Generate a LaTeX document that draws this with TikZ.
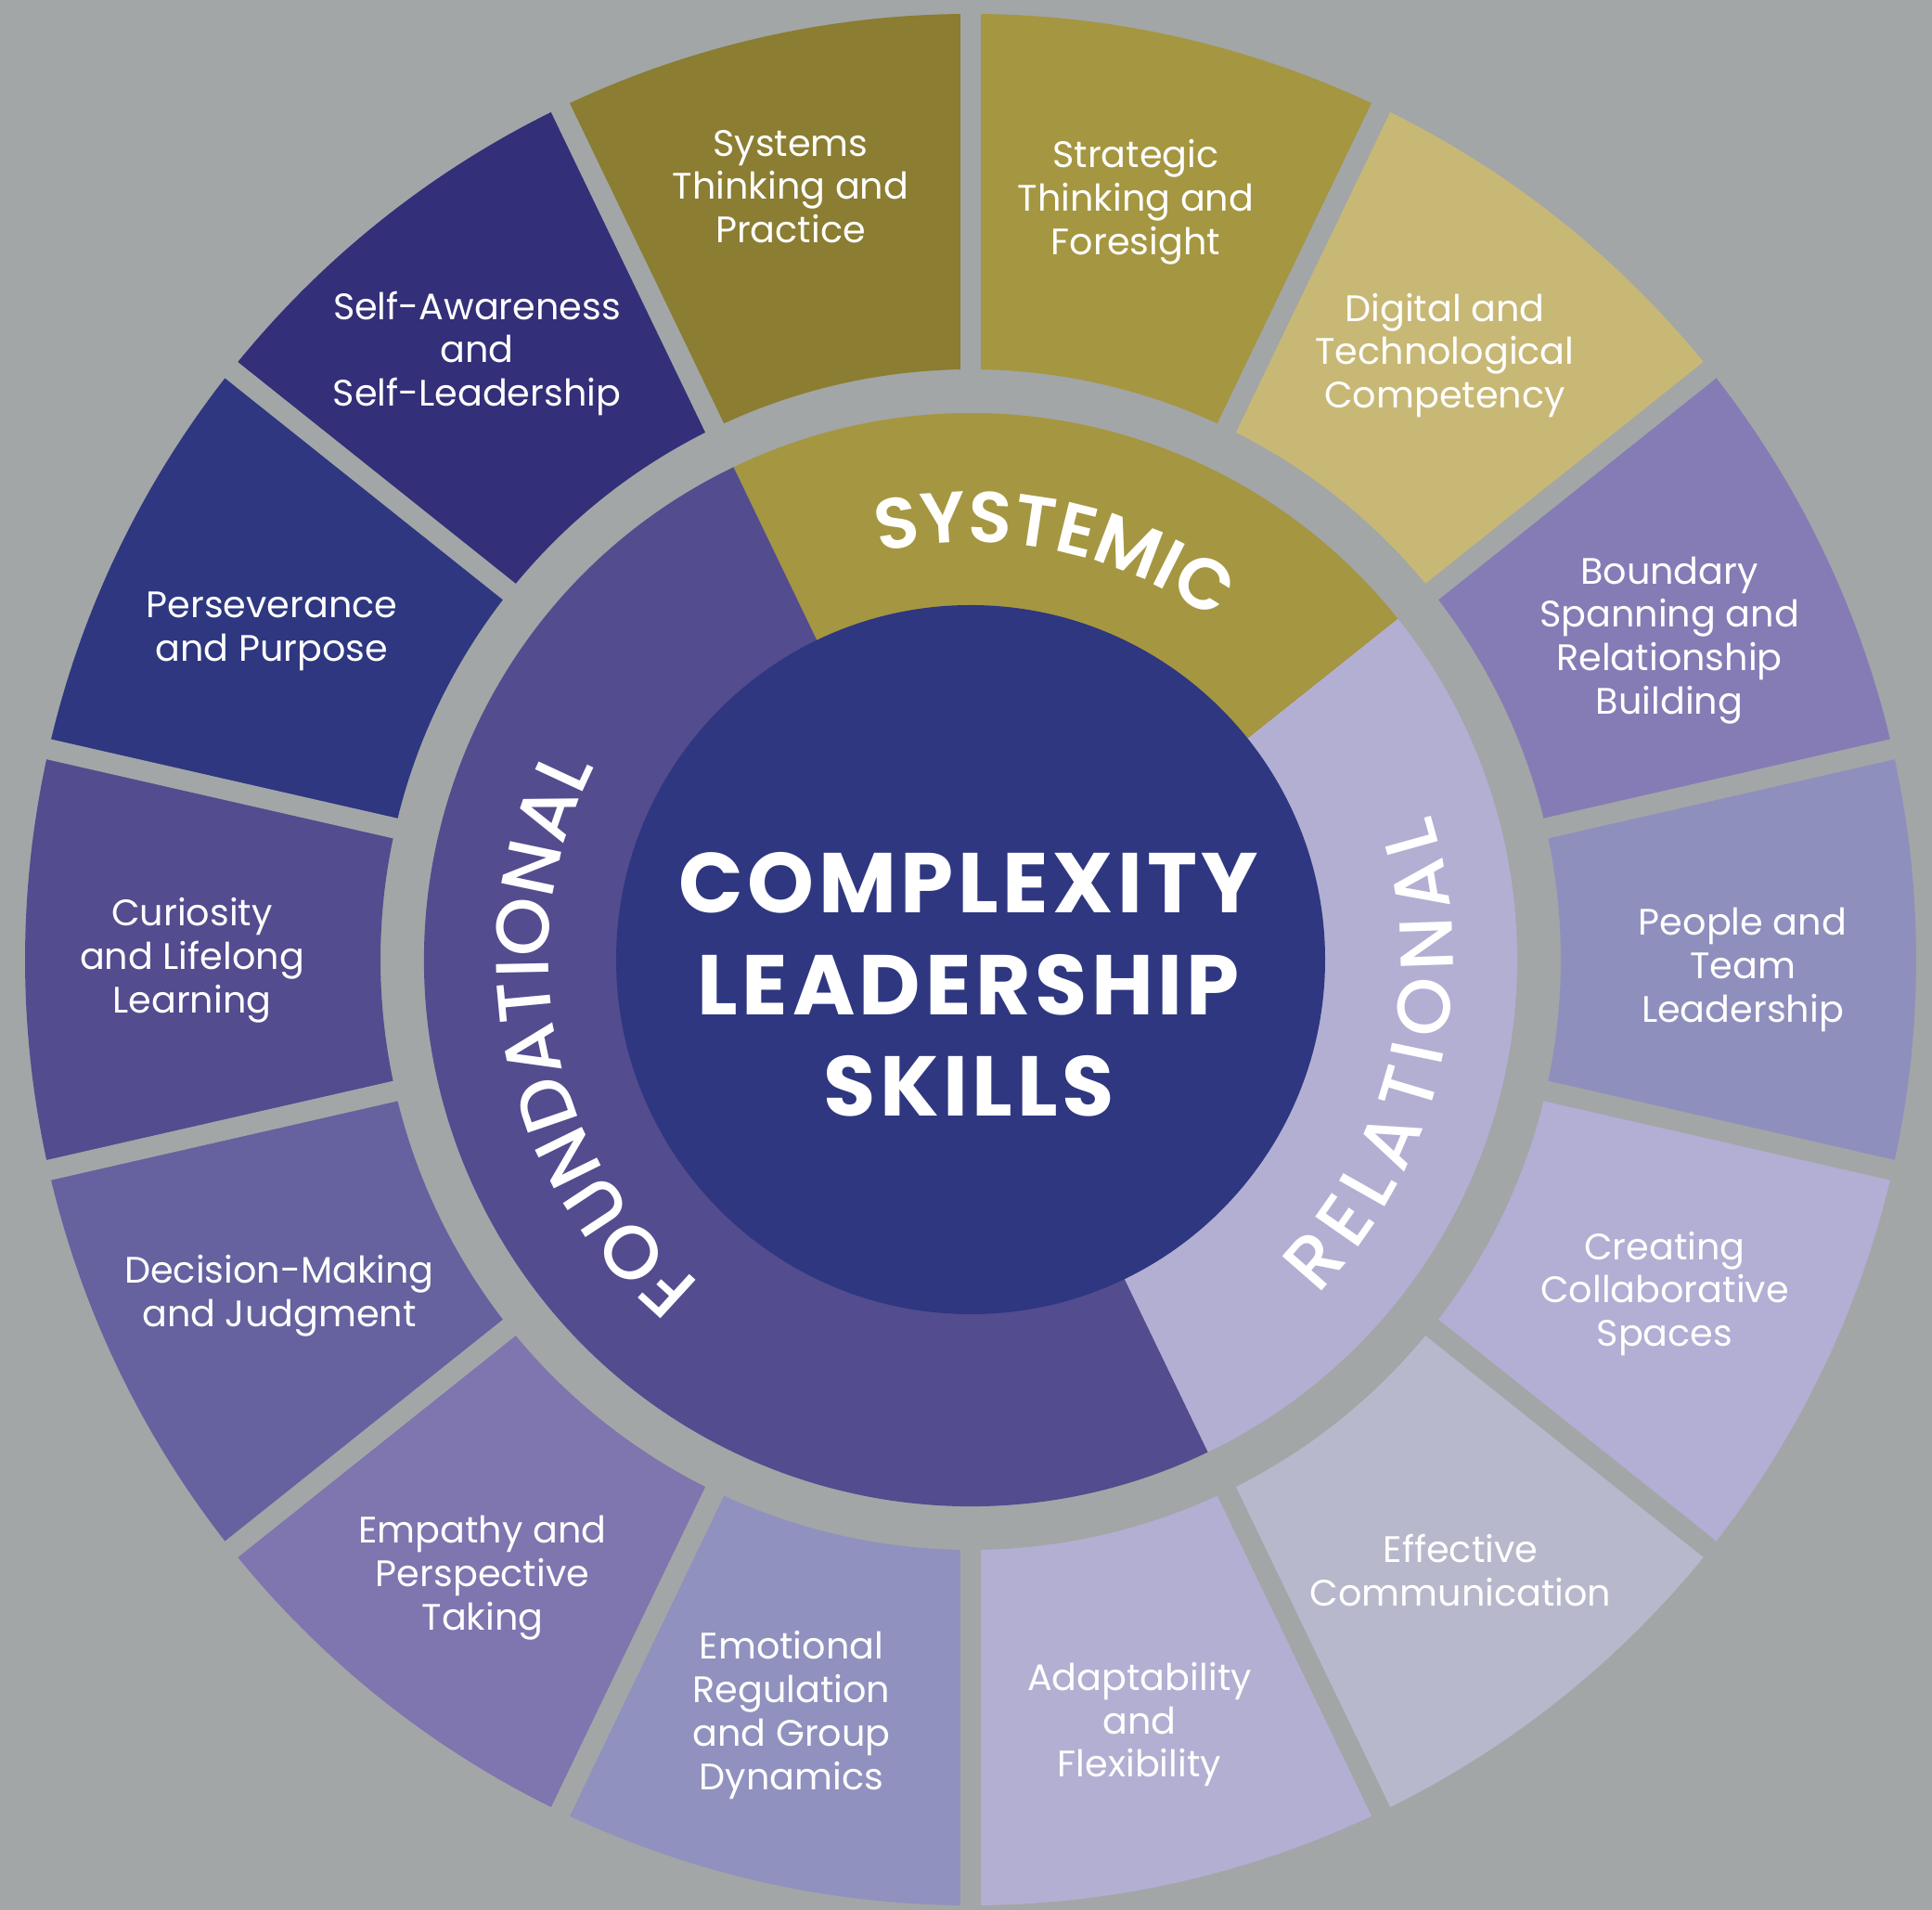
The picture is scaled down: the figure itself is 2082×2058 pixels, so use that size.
\documentclass[tikz,border=0pt]{standalone}
\usepackage{fontspec}
\setmainfont{Poppins}
\IfFontExistsTF{Poppins SemiBold}{\newfontfamily\semifont{Poppins SemiBold}}{\newcommand\semifont{\bfseries}}
\IfFontExistsTF{Poppins Medium}{\newfontfamily\mediumfont{Poppins Medium}}{\newcommand\mediumfont{\mdseries}}
\usepackage{tikz}
\usetikzlibrary{decorations.text}

\definecolor{bgGray}{HTML}{A2A6A7}
\definecolor{coreBlue}{HTML}{2E3780}
\definecolor{sysMid}{HTML}{A59641}
\definecolor{fndMid}{HTML}{534C8F}
\definecolor{relMid}{HTML}{B3AFD3}
\definecolor{segSystems}{HTML}{8B7D32}
\definecolor{segStrategic}{HTML}{A59641}
\definecolor{segDigital}{HTML}{C8B876}
\definecolor{segBoundary}{HTML}{857CB6}
\definecolor{segPeople}{HTML}{8F8FBE}
\definecolor{segCreating}{HTML}{B2AED4}
\definecolor{segComm}{HTML}{B8B8CC}
\definecolor{segAdapt}{HTML}{B3AFD3}
\definecolor{segEmotion}{HTML}{9091BF}
\definecolor{segEmpathy}{HTML}{7F75AF}
\definecolor{segDecision}{HTML}{65629F}
\definecolor{segCurious}{HTML}{534C8F}
\definecolor{segPersevere}{HTML}{2E3780}
\definecolor{segSelf}{HTML}{332F78}

\newcommand\ringlabelfont{\mediumfont\fontsize{23}{23}\selectfont}
\newcommand\systemicfont{\semifont\fontsize{22}{22}\selectfont}

\tikzset{
  skill/.style={align=center, text=white, inner sep=0pt,
    font=\fontsize{11.3}{13.3}\selectfont},
  segmentgap/.style={draw=bgGray, line width=6.3pt},
  title/.style={align=center, text=white, inner sep=0pt,
    font=\fontsize{26}{31.2}\selectfont\bfseries\addfontfeature{LetterSpace=5}},
  ringtext/.style={decorate, decoration={text along path,
    text align=center, text color=white, text={#1}}},
  ringtextfit/.style={decorate, decoration={text along path,
    text align=fit to path, text color=white, text={#1}}}
}

\begin{document}
\begin{tikzpicture}[x=0.01cm, y=0.01cm]
  % Background
  \fill[bgGray] (-1046,-1024) rectangle (1036,1034);
  \useasboundingbox (-1046,-1024) rectangle (1036,1034);

  % Outer ring: 14 skills
  \foreach \k/\col/\lx/\ly/\txt in {
      0/segSystems/-194/833/{Systems\\Thinking and\\Practice},
      1/segStrategic/178/816/{Strategic\\Thinking and\\Foresight},
      2/segDigital/511/651/{Digital and\\Technological\\Competency},
      3/segBoundary/753/344/{Boundary\\Spanning and\\Relationship\\Building},
      4/segPeople/832/-11/{People and\\Team\\Leadership},
      5/segCreating/748/-360/{Creating\\Collaborative\\Spaces},
      6/segComm/528/-658/{Effective\\Communication},
      7/segAdapt/182/-824/{Adaptability\\and\\Flexibility},
      8/segEmotion/-193/-814/{Emotional\\Regulation\\and Group\\Dynamics},
      9/segEmpathy/-526/-666/{Empathy and\\Perspective\\Taking},
      10/segDecision/-745/-362/{Decision-Making\\and Judgment},
      11/segCurious/-839/-1/{Curiosity\\and Lifelong\\Learning},
      12/segPersevere/-753/354/{Perseverance\\and Purpose},
      13/segSelf/-532/653/{Self-Awareness\\and\\Self-Leadership}} {
    \pgfmathsetmacro\amid{102.857-25.714*\k}
    \pgfmathsetmacro\aone{\amid+12.857}
    \pgfmathsetmacro\atwo{\amid-12.857}
    \fill[\col] (\aone:636) arc[start angle=\aone, end angle=\atwo, radius=636]
      -- (\atwo:1019) arc[start angle=\atwo, end angle=\aone, radius=1019] -- cycle;
    \node[skill] (skill\k) at (\lx,\ly) {\txt};
  }

  % Gaps between the skills
  \foreach \k [evaluate=\k as \ang using 90-25.714*\k] in {0,...,13} {
    \draw[segmentgap] (\ang:610) -- (\ang:1060);
  }

  % Middle ring: three groups
  \fill[sysMid] (0,0) -- (115.714:589) arc[start angle=115.714, end angle=38.571, radius=589] -- cycle;
  \fill[relMid] (0,0) -- (38.571:589) arc[start angle=38.571, end angle=-64.286, radius=589] -- cycle;
  \fill[fndMid] (0,0) -- (-64.286:589) arc[start angle=-64.286, end angle=-244.286, radius=589] -- cycle;

  \path[ringtext={|\systemicfont|SYSTEMIC}]
    (118.5:450) arc[start angle=118.5, end angle=38.5, radius=450];
  \path[ringtext={|\ringlabelfont|FOUNDATIONAL}]
    (241.5:455) arc[start angle=241.5, end angle=141.5, radius=455];
  \path[ringtextfit={|\ringlabelfont|RELATIONAL}]
    (-44:520) arc[start angle=-44, end angle=17.5, radius=520];

  % Core
  \fill[coreBlue] (0,0) circle[radius=382];
  \node[title] (title) at (-2,-27) {COMPLEXITY\\LEADERSHIP\\SKILLS};
\end{tikzpicture}
\end{document}
